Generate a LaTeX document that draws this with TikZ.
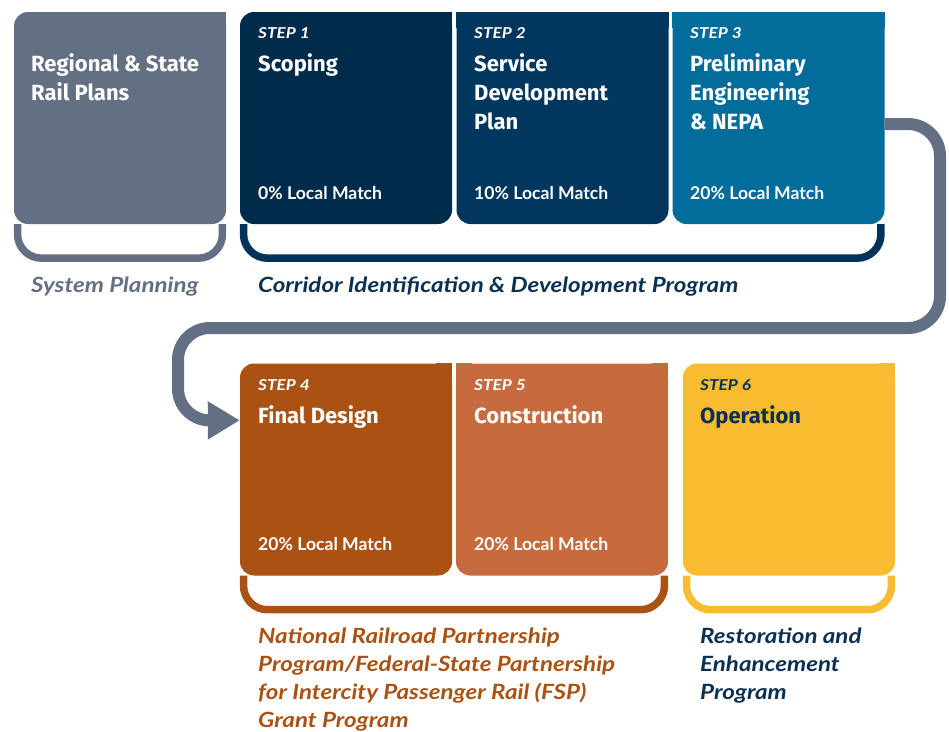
\documentclass[tikz,border=0pt]{standalone}
\usepackage{fontspec}
\usetikzlibrary{arrows.meta,calc}
\newfontfamily\headfont{Fira Sans}
\newfontfamily\bodyfont{Lato}
\newfontfamily\progfont{Lato}[FakeStretch=1.15]
\definecolor{cgray}{HTML}{637083}
\definecolor{cnavyA}{HTML}{012B4B}
\definecolor{cnavyB}{HTML}{01365F}
\definecolor{cteal}{HTML}{026C9A}
\definecolor{crust}{HTML}{AA5213}
\definecolor{corange}{HTML}{C66B3D}
\definecolor{cyellow}{HTML}{F9BB2F}
\definecolor{ctext}{HTML}{0B3052}
\definecolor{cnavybr}{HTML}{00335A}
\newcommand\sqTR[2]{\fill[#2] ($(#1.north east)+(-16,0)$) rectangle ++(16,16);}
\newcommand\sqTL[2]{\fill[#2] (#1.north west) rectangle ++(16,16);}
\tikzset{
  box/.style={rectangle, minimum width=212pt, minimum height=212pt, inner sep=0pt, rounded corners=14pt},
  steplabel/.style={anchor=base west, inner sep=0pt, font={\progfont\fontsize{15}{15}\selectfont\bfseries\itshape}, text=white},
  head/.style={anchor=base west, inner sep=0pt, font={\headfont\fontsize{22}{22}\selectfont\bfseries}, text=white},
  match/.style={anchor=base west, inner sep=0pt, font={\bodyfont\fontsize{17.6}{17.6}\selectfont\bfseries}, text=white},
  prog/.style={anchor=base west, inner sep=0pt, font={\progfont\fontsize{21}{21}\selectfont\bfseries\itshape}},
  bracket/.style={line width=7.5pt, rounded corners=24pt},
  flow/.style={line width=12pt, draw=cgray, rounded corners=32pt, -{Triangle[length=32pt,width=36pt]}}
}
\begin{document}
\begin{tikzpicture}[x=1pt,y=-1pt]
\useasboundingbox (0,0) rectangle (949,731);
% boxes
\node[box, fill=cgray]   (reg) at (120,118) {};
\node[box, fill=cnavyA]  (s1) at (346,118) {};
\node[box, fill=cnavyB]  (s2) at (562.5,118) {};
\node[box, fill=cteal]   (s3) at (778.5,118) {};
\node[box, fill=crust]   (s4) at (346,469.5) {};
\node[box, fill=corange] (s5) at (562,469.5) {};
\node[box, fill=cyellow] (s6) at (789,469.5) {};
\sqTR{reg}{cgray}
\sqTR{s1}{cnavyA}
\sqTL{s2}{cnavyB}\sqTR{s2}{cnavyB}
\sqTL{s3}{cteal}\sqTR{s3}{cteal}
\sqTR{s4}{crust}
\sqTL{s5}{corange}\sqTR{s5}{corange}
\sqTR{s6}{cyellow}
% brackets
\draw[bracket, cgray] ($(reg.south west)+(3.75,0)$) -- ++(0,34) -| ($(reg.south east)+(-3.75,0)$);
\draw[bracket, cnavybr] ($(s1.south west)+(3.75,0)$) -- ++(0,34) -| ($(s3.south east)+(-3.75,0)$);
\draw[bracket, crust] ($(s4.south west)+(3.75,0)$) -- ++(0,34) -| ($(s5.south east)+(-3.75,0)$);
\draw[bracket, cyellow] ($(s6.south west)+(3.75,0)$) -- ++(0,34) -| ($(s6.south east)+(-3.75,0)$);
% flow arrow
\draw[flow] ($(s3.east)+(0,6)$) -- (940,124) -- (940,328) -- (178,328) -- (178,420.5) -- ($(s4.north west)+(0,57)$);
% texts top row
\node[head] (regA) at (31,71) {Regional \& State};
\node[head] (regB) at (31,100) {Rail Plans};
\node[steplabel] (s1a) at (258,38) {STEP 1};
\node[head] (s1b) at (258,71) {Scoping};
\node[match] (s1c) at (258,199) {0\% Local Match};
\node[steplabel] (s2a) at (474,38) {STEP 2};
\node[head] (s2b) at (474,71) {Service};
\node[head] (s2c) at (474,100) {Development};
\node[head] (s2d) at (474,129) {Plan};
\node[match] (s2e) at (474,199) {10\% Local Match};
\node[steplabel] (s3a) at (690,38) {STEP 3};
\node[head] (s3b) at (690,71) {Preliminary};
\node[head] (s3c) at (690,100) {Engineering};
\node[head] (s3d) at (690,129) {\& NEPA};
\node[match] (s3e) at (690,199) {20\% Local Match};
% texts bottom row
\node[steplabel] (s4a) at (258,390) {STEP 4};
\node[head] (s4b) at (258,423) {Final Design};
\node[match] (s4c) at (258,550) {20\% Local Match};
\node[steplabel] (s5a) at (474,390) {STEP 5};
\node[head] (s5b) at (474,423) {Construction};
\node[match] (s5c) at (474,550) {20\% Local Match};
\node[steplabel, text=ctext] (s6a) at (700,390) {STEP 6};
\node[head, text=ctext] (s6b) at (700,423) {Operation};
% program labels
\node[prog, text=cgray] (pSys) at (31,292) {System Planning};
\node[prog, text=ctext] (pCor) at (258,292) {Corridor Identification \& Development Program};
\node[prog, text=crust] (pF1) at (258,643) {National Railroad Partnership};
\node[prog, text=crust] (pF2) at (258,671.5) {Program/Federal-State Partnership};
\node[prog, text=crust] (pF3) at (258,699.5) {for Intercity Passenger Rail (FSP)};
\node[prog, text=crust] (pF4) at (258,727) {Grant Program};
\node[prog, text=ctext] (pR1) at (700,643) {Restoration and};
\node[prog, text=ctext] (pR2) at (700,671.5) {Enhancement};
\node[prog, text=ctext] (pR3) at (700,699.5) {Program};
\end{tikzpicture}
\end{document}
